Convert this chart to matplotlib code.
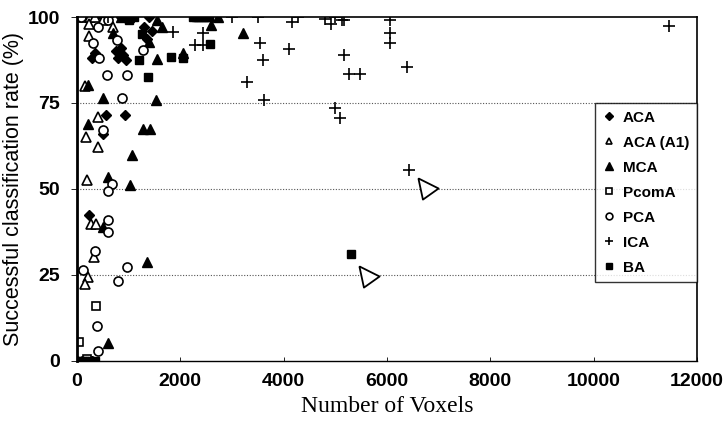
import numpy as np
import matplotlib
matplotlib.use("Agg")
import matplotlib.pyplot as plt

# values (voxels, classification rate %)
aca_x = [150, 300, 500, 850, 1400, 300, 350, 750, 800, 850, 900, 950, 1300, 1350, 1450, 560, 930, 500, 230, 0, 100, 200, 300]
aca_y = [100, 100, 100, 100, 100, 88, 89.5, 90, 88, 91, 89, 87.5, 97, 93.5, 96, 71.5, 71.5, 66, 42.5, 0, 0, 0, 0]

a1_x = [100, 250, 350, 500, 700, 230, 230, 150, 400, 170, 400, 190, 270, 370, 330, 210, 160]
a1_y = [100, 100, 100, 99, 97, 98, 94.5, 80, 71, 65, 62.3, 52.6, 39.7, 39.7, 30.2, 24.5, 22.4]

mca_x = [850, 1000, 1550, 2730, 2600, 1650, 700, 1390, 1550, 2050, 3210, 210, 500, 1530, 210, 1280, 1410, 1060, 600, 1020, 500, 1350, 600, 200, 300]
mca_y = [100, 100, 99, 100, 97.7, 97, 95.3, 92.7, 87.8, 89.5, 95.3, 80.2, 76.5, 76, 69, 67.5, 67.5, 60, 53.5, 51.2, 39, 28.8, 5.2, 0, 0]

pcom_x = [370, 40, 200]
pcom_y = [16, 5.5, 0.5]

pca_x = [80, 400, 600, 310, 420, 770, 1280, 580, 970, 870, 500, 680, 600, 600, 600, 350, 970, 120, 790, 390, 400]
pca_y = [100, 97, 99, 92.5, 88, 93.3, 90.4, 83, 83, 76.5, 67, 51.5, 49.4, 41, 37.5, 32, 27.3, 26.5, 23.3, 10.2, 3]

ica_x = [600, 1000, 1860, 2280, 2440, 2440, 3000, 3290, 3500, 3540, 3600, 3620, 4100, 4160, 4270,
         4800, 4910, 5000, 5000, 5090, 5130, 5160, 5160, 5260, 5470, 6050, 6050, 6050, 6380, 6420, 11460]
ica_y = [100, 100, 95.6, 91.9, 91.9, 95.3, 100, 81, 100, 92.4, 87.5, 76, 90.7, 98.5, 100,
         99.5, 98, 100, 73.5, 70.7, 99, 99, 89, 83.5, 83.5, 99, 95.5, 92.5, 85.5, 55.4, 97.4]

ba_x = [1000, 1100, 2250, 2300, 2350, 2400, 2450, 2500, 2550, 1250, 2570, 1200, 1820, 2050, 1370, 5310, 50, 100, 150, 250, 350]
ba_y = [99, 100, 100, 100, 100, 100, 100, 100, 100, 95, 92.2, 87.5, 88.4, 88, 82.5, 31, 0, 0, 0, 0, 0]

# open pointer marks drawn on the chart
pointer_x = [6790, 5650]
pointer_y = [50.3, 24.7]

x_ticks = [0, 2000, 4000, 6000, 8000, 10000, 12000]
y_ticks = [0, 25, 50, 75, 100]

tick_font = ['Liberation Sans', 'DejaVu Sans']

fig = plt.figure(figsize=(7.25, 4.26), dpi=100)
ax = fig.add_axes([0.1062, 0.153, 0.855, 0.807])

ax.plot(aca_x, aca_y, 'D', color='black', ms=5.5, ls='none', label='ACA')
ax.plot(a1_x, a1_y, '^', mfc='white', mec='black', mew=1.2, ms=6.5, ls='none', label='ACA (A1)')
ax.plot(mca_x, mca_y, '^', color='black', ms=7, ls='none', label='MCA')
ax.plot(pcom_x, pcom_y, 's', mfc='white', mec='black', mew=1.2, ms=6, ls='none', label='PcomA')
ax.plot(pca_x, pca_y, 'o', mfc='white', mec='black', mew=1.2, ms=6.5, ls='none', label='PCA')
ax.plot(ica_x, ica_y, '+', color='black', ms=8, mew=1.2, ls='none', label='ICA')
ax.plot(ba_x, ba_y, 's', color='black', ms=6, ls='none', label='BA')

tri = [(-1, 1), (-0.55, -1.1), (1, 0), (-1, 1)]
ax.plot(pointer_x, pointer_y, marker=tri, mfc='white', mec='black', mew=1.3, ms=16, ls='none')

ax.set_xlim(0, 12000)
ax.set_ylim(0, 100)
ax.set_xticks(x_ticks)
ax.set_yticks(y_ticks)
ax.set_xticklabels([str(v) for v in x_ticks], family=tick_font, fontweight='bold', fontsize=14)
ax.set_yticklabels([str(v) for v in y_ticks], family=tick_font, fontweight='bold', fontsize=14)
ax.tick_params(axis='x', direction='in', length=3, width=0.6, pad=9)
ax.tick_params(axis='y', direction='out', length=4, width=0.6, pad=8)

for v in [25, 50, 75]:
    ax.axhline(v, color='#555555', ls=(0, (1, 1.5)), lw=0.8, zorder=0)

ax.spines['left'].set_linewidth(2)
ax.spines['top'].set_linewidth(1.2)
ax.spines['right'].set_linewidth(1.2)
ax.spines['bottom'].set_linewidth(1.0)

ax.set_xlabel('Number of Voxels', family=['Liberation Serif', 'DejaVu Serif'], fontsize=17, labelpad=4)
ax.set_ylabel('Successful classification rate (%)', family=['Liberation Sans', 'DejaVu Sans'], fontsize=15.5, labelpad=3)

leg = ax.legend(loc='upper right', bbox_to_anchor=(1.0, 0.75), frameon=True, fancybox=False,
                edgecolor='black', borderaxespad=0, markerscale=0.75, handlelength=0.8,
                handletextpad=0.5, labelspacing=0.72, borderpad=0.5,
                prop={'family': ['Liberation Sans', 'DejaVu Sans'], 'weight': 'bold', 'size': 11})
leg.get_frame().set_linewidth(1.0)

fig.savefig('out.png', dpi=100)
